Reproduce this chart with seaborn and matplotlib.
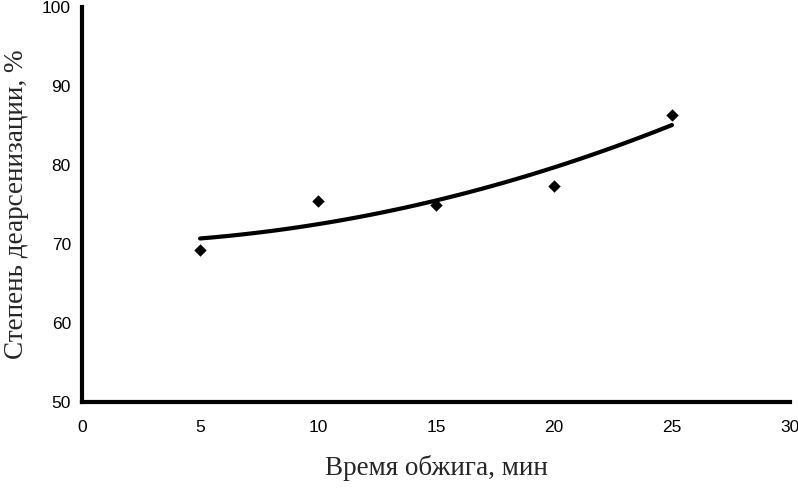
import matplotlib
matplotlib.use("Agg")
import matplotlib.pyplot as plt
import numpy as np
import pandas as pd
import seaborn as sns

# data
time_min = [5, 10, 15, 20, 25]
dearsenation = [69.3, 75.5, 75.0, 77.4, 86.3]
x_ticks = [0, 5, 10, 15, 20, 25, 30]
y_ticks = [50, 60, 70, 80, 90, 100]

sns.set_style("white")
plt.rcParams["font.family"] = ["Liberation Sans", "DejaVu Sans"]

df = pd.DataFrame({"t": time_min, "d": dearsenation})

# second-order polynomial trendline fitted to the points
coef = np.polyfit(df["t"], df["d"], 2)
t_fit = np.linspace(min(time_min), max(time_min), 100)
fit = pd.DataFrame({"t": t_fit, "d": np.polyval(coef, t_fit)})

fig = plt.figure(figsize=(7.98, 4.88), dpi=100)
ax = fig.add_axes([0.1028, 0.176, 0.8872, 0.8097])

sns.lineplot(data=fit, x="t", y="d", color="black", linewidth=3, ax=ax)
sns.scatterplot(data=df, x="t", y="d", marker="D", s=40, color="black",
                edgecolor="black", linewidth=0, ax=ax, zorder=3)

ax.set_xlim(0, 30)
ax.set_ylim(50, 100)
ax.set_xticks(x_ticks)
ax.set_yticks(y_ticks)
ax.tick_params(direction="in", length=4, width=2, labelsize=12.5, colors="black")
ax.tick_params(axis="y", pad=8)
ax.tick_params(axis="x", pad=13)

for side in ["top", "right"]:
    ax.spines[side].set_visible(False)
for side in ["left", "bottom"]:
    ax.spines[side].set_linewidth(3)
    ax.spines[side].set_color("black")

serif = ["Liberation Serif", "DejaVu Serif"]
ax.set_xlabel("Время обжига, мин", family=serif, fontsize=19.5, va="center")
ax.set_ylabel("Степень деарсенизации, %", family=serif, fontsize=19.5, va="center")
ax.xaxis.set_label_coords(0.5, -0.167)
ax.yaxis.set_label_coords(-0.092, 0.5)

fig.savefig("out.png", dpi=100)
